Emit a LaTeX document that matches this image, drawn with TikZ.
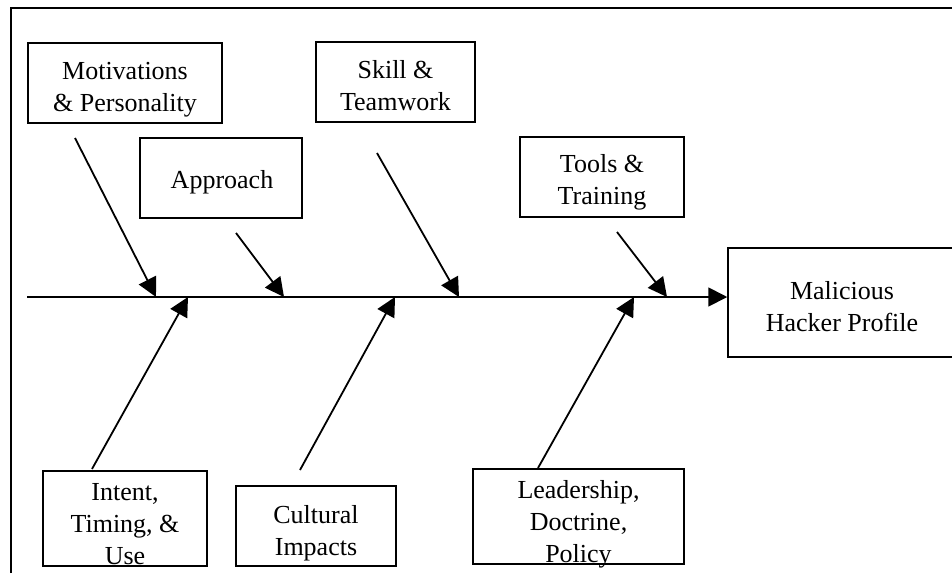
\documentclass[tikz,border=0pt]{standalone}
\usepackage{fontspec}
\setmainfont{Liberation Serif}
\usetikzlibrary{arrows.meta}
\begin{document}
\begin{tikzpicture}[x=1pt,y=-1pt,
  box/.style={draw, line width=1.5pt, inner sep=0pt},
  txt/.style={inner sep=0pt, align=center, anchor=north, font=\fontsize{26}{32}\selectfont},
  arr/.style={line width=1.8pt, -{Triangle[length=19pt,width=19pt]}},
  frame/.style={line width=2.2pt}
]
\useasboundingbox (0,0) rectangle (952,573);
\draw[frame] (11,573) -- (11,8) -- (952,8);

% boxes
\node[box, minimum width=194, minimum height=80] (mot) at (125,83) {};
\node[txt] (motT) at (125,62.5) {Motivations\\\& Personality};
\node[box, minimum width=162, minimum height=80] (app) at (221,178) {};
\node[txt] (appT) at (222,170.5) {Approach};
\node[box, minimum width=159, minimum height=80] (skill) at (395.5,82) {};
\node[txt] (skillT) at (395.5,60.5) {Skill \&\\Teamwork};
\node[box, minimum width=164, minimum height=80] (tools) at (602,177) {};
\node[txt] (toolsT) at (602,154.5) {Tools \&\\Training};
\node[box, minimum width=228, minimum height=109] (mal) at (842,302.5) {};
\node[txt] (malT) at (842,281) {Malicious\\Hacker Profile};
\node[box, minimum width=164, minimum height=95] (intent) at (125,518.5) {};
\node[txt] (intentT) at (125,483) {Intent,\\Timing, \&\\Use};
\node[box, minimum width=160, minimum height=80] (cult) at (316,526) {};
\node[txt] (cultT) at (316,505.5) {Cultural\\Impacts};
\node[box, minimum width=211, minimum height=95] (lead) at (578.5,516.5) {};
\node[txt] (leadT) at (578.5,480.5) {Leadership,\\Doctrine,\\Policy};

% spine
\coordinate (sp) at (27,297);
\draw[arr] (sp) -- (sp -| mal.west);

% upper bones
\coordinate (a1) at (75,138);  \coordinate (b1) at (156,297);
\coordinate (a2) at (236,233); \coordinate (b2) at (284,297);
\coordinate (a3) at (377,153); \coordinate (b3) at (459,297);
\coordinate (a4) at (617,232); \coordinate (b4) at (667,297);
\draw[arr] (a1) -- (b1);
\draw[arr] (a2) -- (b2);
\draw[arr] (a3) -- (b3);
\draw[arr] (a4) -- (b4);

% lower bones
\coordinate (c1) at (92,469);  \coordinate (d1) at (188,297);
\coordinate (c2) at (300,470); \coordinate (d2) at (395,297);
\coordinate (c3) at (538,468); \coordinate (d3) at (634,297);
\draw[arr] (c1) -- (d1);
\draw[arr] (c2) -- (d2);
\draw[arr] (c3) -- (d3);
\end{tikzpicture}
\end{document}
